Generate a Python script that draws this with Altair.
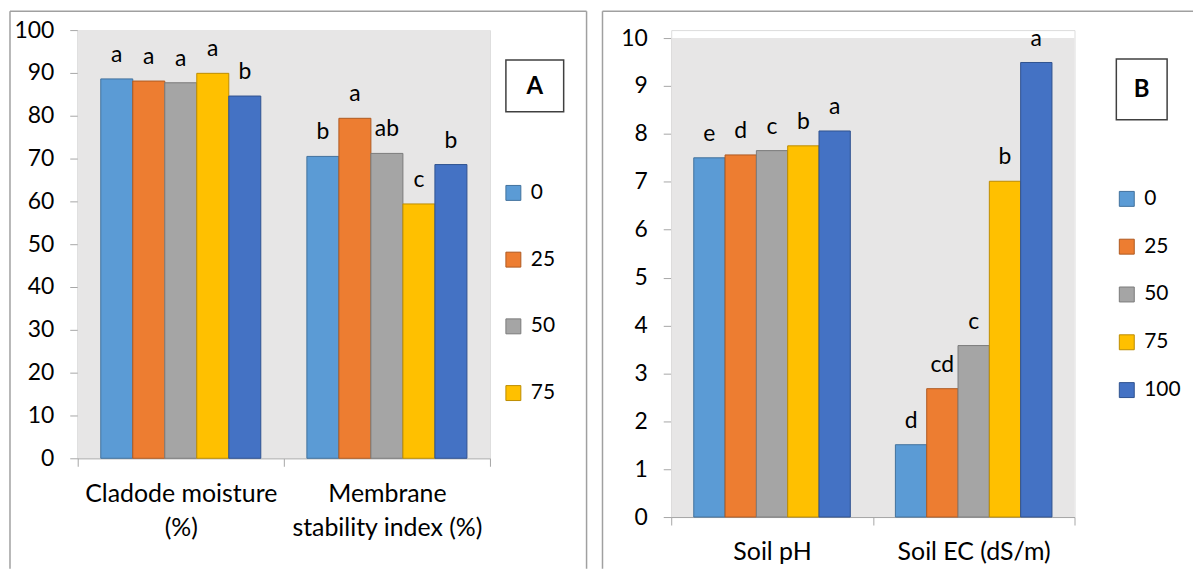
import altair as alt
import pandas as pd

# ---- data ----
levels = ["0", "25", "50", "75", "100"]
fills = ["#5B9BD5", "#ED7D31", "#A5A5A5", "#FFC000", "#4472C4"]
edges = ["#41719C", "#AE5A21", "#7B7B7B", "#BC8C00", "#2F528F"]

a_params = ["Cladode moisture\n(%)", "Membrane\nstability index (%)"]
a_cladode = [88.6, 88.1, 87.7, 89.9, 84.6]
a_membrane = [70.5, 79.4, 71.2, 59.4, 68.6]
a_cladode_letters = ["a", "a", "a", "a", "b"]
a_membrane_letters = ["b", "a", "ab", "c", "b"]
a_ticks = [0, 10, 20, 30, 40, 50, 60, 70, 80, 90, 100]
a_legend = ["0", "25", "50", "75"]

b_params = ["Soil pH", "Soil EC (dS/m)"]
b_ph = [7.50, 7.56, 7.65, 7.75, 8.06]
b_ec = [1.51, 2.68, 3.58, 7.01, 9.49]
b_ph_letters = ["e", "d", "c", "b", "a"]
b_ec_letters = ["d", "cd", "c", "b", "a"]
b_ticks = [0, 1, 2, 3, 4, 5, 6, 7, 8, 9, 10]
b_legend = ["0", "25", "50", "75", "100"]

FONT = "Lato"
AX = "#A6A6A6"
BG = "#E7E6E6"


def make_df(params, series, letters):
    rows = []
    for p, vals, lets in zip(params, series, letters):
        for lv, v, l in zip(levels, vals, lets):
            rows.append({"param": p, "level": lv, "value": v, "letter": l})
    return pd.DataFrame(rows)


def panel(df, params, ticks, w, h, top, legend_vals, lx, ly, row_pad, box, label, border):
    base = alt.Chart(df)
    x = alt.X("param:N", sort=params,
              scale=alt.Scale(paddingInner=0, paddingOuter=0),
              axis=alt.Axis(title=None, labelAngle=0, tickBand="extent",
                            labelExpr="split(datum.label, '\\n')",
                            labelFontSize=25, labelLineHeight=35, labelPadding=15,
                            labelLimit=400,
                            labelColor="#000000", labelFont=FONT,
                            tickSize=8, tickColor=AX, domainColor=AX))
    xo = alt.XOffset("level:N", sort=levels,
                     scale=alt.Scale(paddingInner=0, paddingOuter=0.72))
    y = alt.Y("value:Q",
              scale=alt.Scale(domain=[ticks[0], ticks[-1]], nice=False,
                              range=[top + h, top]),
              axis=alt.Axis(title=None, values=ticks, grid=False, tickSize=8,
                            labelPadding=16, labelFontSize=23, labelColor="#000000",
                            labelFont=FONT, tickColor=AX, domainColor=AX))
    leg = alt.Legend(values=legend_vals, orient="none", legendX=lx, legendY=ly,
                     title=None, symbolType="square", symbolSize=225,
                     labelFontSize=21, labelFont=FONT, labelColor="#000000",
                     rowPadding=row_pad, labelOffset=7, symbolStrokeWidth=1)
    bars = base.mark_bar(strokeWidth=1).encode(
        x=x, xOffset=xo, y=y,
        color=alt.Color("level:N", scale=alt.Scale(domain=levels, range=fills), legend=leg),
        stroke=alt.Stroke("level:N", scale=alt.Scale(domain=levels, range=edges), legend=leg),
    )
    letters = base.mark_text(fontSize=23, font=FONT, color="#000000",
                             baseline="alphabetic", dy=-17).encode(
        x=alt.X("param:N", sort=params), xOffset=alt.XOffset("level:N", sort=levels),
        y="value:Q", text="letter:N")
    one = alt.Data(values=[{"k": 1}])
    bg = alt.Chart(one).mark_rect(fill=BG).encode(
        x=alt.value(0), x2=alt.value(w), y=alt.value(top), y2=alt.value(top + h))
    bx0, by0, bx1, by1 = box
    box_rect = alt.Chart(one).mark_rect(fill="white", stroke="#404040", strokeWidth=1.5).encode(
        x=alt.value(bx0), x2=alt.value(bx1), y=alt.value(by0), y2=alt.value(by1))
    box_text = alt.Chart(one).mark_text(fontSize=24, font=FONT, fontWeight="bold",
                                        color="#000000", baseline="middle").encode(
        x=alt.value((bx0 + bx1) / 2), y=alt.value((by0 + by1) / 2 + 1),
        text=alt.value(label))
    rules = []
    for (x0, y0, x1, y1) in border:
        rules.append(alt.Chart(one).mark_rule(color="#A0A0A0", strokeWidth=1.5).encode(
            x=alt.value(x0), y=alt.value(y0), x2=alt.value(x1), y2=alt.value(y1)))
    return alt.layer(bg, *rules, bars, letters, box_rect, box_text).properties(
        width=w, height=top + h)


df_a = make_df(a_params, [a_cladode, a_membrane], [a_cladode_letters, a_membrane_letters])
df_b = make_df(b_params, [b_ph, b_ec], [b_ph_letters, b_ec_letters])

# panel A: plot origin at page (77, 27); panel B: origin at page (670, 27), 10-line at 35
chart_a = panel(df_a, a_params, a_ticks, 414, 430, 0, a_legend, 427, 153, 45,
                (430, 30, 488, 82), "A",
                [(-68, -19, -68, 541), (-68, -19, 511, -19), (511, -19, 511, 541)])
chart_b = panel(df_b, b_params, b_ticks, 405, 481, 8, b_legend, 447, 159, 26,
                (447, 29, 498, 90), "B",
                [(-69, -19, -69, 541), (-69, -19, 524, -19)])

chart = alt.hconcat(chart_a, chart_b, spacing=12).resolve_scale(
    color="independent", stroke="independent", y="independent", x="independent",
    xOffset="independent"
).resolve_legend(color="independent", stroke="independent").properties(
    padding=0
).configure_view(stroke=None).configure(font=FONT)

chart.save("out.html", embed_options={"renderer": "svg", "actions": False})
